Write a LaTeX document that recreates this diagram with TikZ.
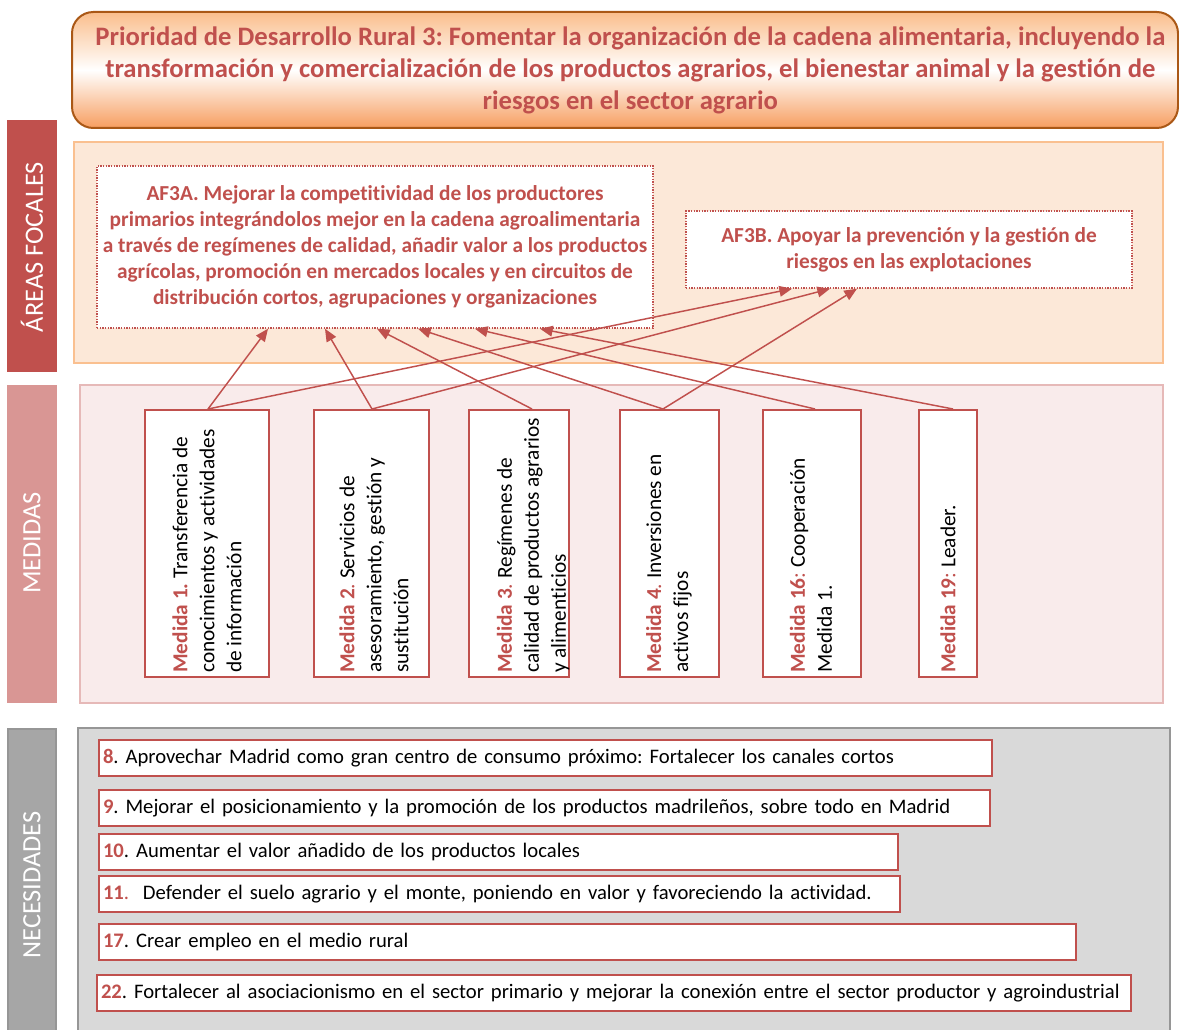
\documentclass[tikz,border=0pt]{standalone}
\usepackage{fontspec}
\setmainfont{Carlito}[Ligatures={NoCommon,NoDiscretionary}]
\usetikzlibrary{arrows.meta,calc}
\definecolor{dred}{RGB}{192,80,77}
\definecolor{titletop}{RGB}{250,190,140}
\definecolor{titlebot}{RGB}{247,158,96}
\definecolor{titleline}{RGB}{170,88,22}
\definecolor{afill}{RGB}{252,232,216}
\definecolor{aline}{RGB}{250,192,144}
\definecolor{mfill}{RGB}{249,235,235}
\definecolor{mline}{RGB}{230,185,184}
\definecolor{mbar}{RGB}{217,150,148}
\definecolor{nfill}{RGB}{217,217,217}
\definecolor{nline}{RGB}{150,150,150}
\definecolor{nbar}{RGB}{166,166,166}
\tikzset{
  afbox/.style={draw=dred, fill=white, line width=1.1pt, dash pattern=on 1pt off 1pt,
    align=center, text=dred, font=\fontsize{16}{19.5}\selectfont\bfseries, inner sep=0pt},
  medbox/.style={draw=dred, fill=white, line width=1.5pt, minimum height=200.25pt, inner sep=0pt},
  medtext/.style={rotate=90, anchor=west, align=left, inner sep=0pt,
    font=\fontsize{16}{20.25}\selectfont},
  needbox/.style={draw=dred, fill=white, line width=1.5pt, anchor=west, align=left,
    minimum height=27pt, inner xsep=3pt, inner ysep=0pt, font=\fontsize{15.5}{18}\selectfont},
  barlabel/.style={rotate=90, text=white, font=\fontsize{19.8}{24}\selectfont},
  conn/.style={draw=dred, line width=1.1pt, -{Triangle[length=9.5pt,width=8pt]}}
}
\newcommand{\rb}[1]{\textcolor{dred}{\textbf{#1}}}
\newcommand{\rr}[1]{\textcolor{dred}{#1}}
\begin{document}
\frenchspacing
\begin{tikzpicture}[x=0.75pt,y=-0.75pt]
\useasboundingbox (0,0) rectangle (1179,1030);
\clip (0,0) rectangle (1179,1030);

% left bars
\fill[dred] (7,120) rectangle (57,372);
\node[barlabel] (lb1) at (32,247) {ÁREAS FOCALES};
\fill[mbar] (7,385) rectangle (57,703);
\node[barlabel] (lb2) at (32,543) {MEDIDAS};
\draw[fill=nbar, draw=nline, line width=0.8pt] (8,729) rectangle (56,1040);
\node[barlabel] (lb3) at (32,885) {NECESIDADES};

% title
\node[draw=titleline, line width=1.5pt, rounded corners=16pt,
  top color=titletop, bottom color=titlebot, middle color=white,
  minimum width=829.5pt, minimum height=87pt, align=center, text=dred,
  font=\fontsize{20}{24}\selectfont\bfseries] (title) at (625,70)
  {\hspace*{8pt}Prioridad de Desarrollo Rural 3: Fomentar la organización de la cadena alimentaria, incluyendo la\\
   \hspace*{8pt}transformación y comercialización de los productos agrarios, el bienestar animal y la gestión de\\
   \hspace*{8pt}riesgos en el sector agrario};

% panels
\draw[fill=afill, draw=aline, line width=1.2pt] (74,142) rectangle (1163,363);
\draw[fill=mfill, draw=mline, line width=1.2pt] (80,385) rectangle (1163,703);
\draw[fill=nfill, draw=nline, line width=1.2pt] (78,728) rectangle (1170,1040);

% focus areas
\node[afbox, minimum width=417pt, minimum height=121.5pt] (af3a) at (375,247)
  {AF3A. Mejorar la competitividad de los productores\\
   primarios integrándolos mejor en la cadena agroalimentaria\\
   a través de regímenes de calidad, añadir valor a los productos\\
   agrícolas, promoción en mercados locales y en circuitos de\\
   distribución cortos, agrupaciones y organizaciones};
\node[afbox, minimum width=334.5pt, minimum height=57.75pt] (af3b) at (909,249.5)
  {AF3B. Apoyar la prevención y la gestión de\\riesgos en las explotaciones};

% measures
\node[medbox, minimum width=93pt] (m1) at (207,543.5) {};
\node[medbox, minimum width=86.25pt] (m2) at (371.5,543.5) {};
\node[medbox, minimum width=75pt] (m3) at (519,543.5) {};
\node[medbox, minimum width=74.25pt] (m4) at (669.5,543.5) {};
\node[medbox, minimum width=73.5pt] (m16) at (812,543.5) {};
\node[medbox, minimum width=43.5pt] (m19) at (948,543.5) {};

\node[medtext] (t1) at (207,673) {\rb{Medida 1.} Transferencia de\\conocimientos y actividades\\de información};
\node[medtext] (t2) at (374,673) {\rb{Medida 2}\rr{.} Servicios de\\asesoramiento, gestión y\\sustitución};
\node[medtext] (t3) at (533,673) {\rb{Medida 3}\rr{.} Regímenes de\\calidad de productos agrarios\\y alimenticios};
\node[medtext] (t4) at (669,673) {\rb{Medida 4}\rr{.} Inversiones en\\activos fijos};
\node[medtext] (t16) at (811,673) {\rb{Medida 16}\rr{:} Cooperación\\Medida 1.};
\node[medtext] (t19) at (948,673) {\rb{Medida 19}\rr{:} Leader.};

% connectors
\draw[conn] ($(m1.north)+(1,0)$) -- ($(af3a.south)+(-107,0)$);
\draw[conn] ($(m1.north)+(1,0)$) -- ($(af3b.south)+(-117,0)$);
\draw[conn] ($(m2.north)+(0.5,0)$) -- ($(af3a.south)+(-50,0)$);
\draw[conn] ($(m2.north)+(0.5,0)$) -- ($(af3b.south)+(-79,0)$);
\draw[conn] ($(m3.north)+(13,0)$) -- ($(af3a.south)+(2,0)$);
\draw[conn] ($(m4.north)+(-6.5,0)$) -- ($(af3a.south)+(43,0)$);
\draw[conn] ($(m4.north)+(-6.5,0)$) -- ($(af3b.south)+(-52,0)$);
\draw[conn] ($(m16.north)+(3,0)$) -- ($(af3a.south)+(100,0)$);
\draw[conn] ($(m19.north)+(5,0)$) -- ($(af3a.south)+(165,0)$);

% needs
\node[needbox, minimum width=669.75pt, text width=663.75pt] (n8) at (98,758)
  {\rb{8}. Aprovechar Madrid como gran centro de consumo próximo: Fortalecer los canales cortos};
\node[needbox, minimum width=668.25pt, text width=662.25pt] (n9) at (98,808)
  {\rb{9}. Mejorar el posicionamiento y la promoción de los productos madrileños, sobre todo en Madrid};
\node[needbox, minimum width=599.25pt, text width=593.25pt] (n10) at (98,851.5)
  {\rb{10}. Aumentar el valor añadido de los productos locales};
\node[needbox, minimum width=600.75pt, text width=594.75pt] (n11) at (98,894)
  {\rb{11}\rr{.}\ \ Defender el suelo agrario y el monte, poniendo en valor y favoreciendo la actividad.};
\node[needbox, minimum width=732.75pt, text width=726.75pt] (n17) at (98,942)
  {\rb{17}. Crear empleo en el medio rural};
\node[needbox, minimum width=775.5pt, text width=769.5pt] (n22) at (96,993)
  {\rb{22}. Fortalecer al asociacionismo en el sector primario y mejorar la conexión entre el sector productor y agroindustrial};
\end{tikzpicture}
\end{document}
